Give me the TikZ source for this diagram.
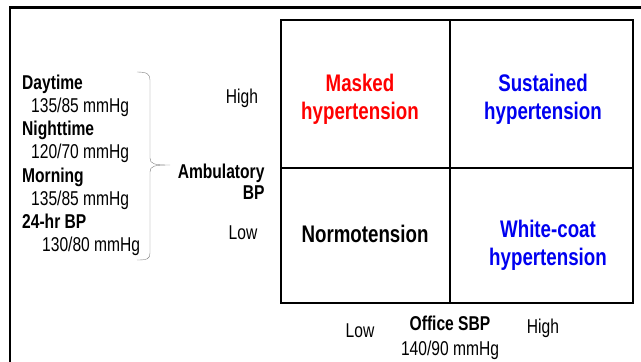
\documentclass[tikz,border=0pt]{standalone}
\usepackage{fontspec}
\setmainfont[FakeStretch=0.78]{Liberation Sans}

\definecolor{maskedred}{RGB}{255,0,0}
\definecolor{htblue}{RGB}{0,0,240}

\tikzset{
  cellline/.style={line width=1.6pt},
  celltext/.style={font=\fontsize{24}{28}\selectfont\bfseries,align=center},
  small/.style={font=\fontsize{20}{21}\selectfont},
  smallbold/.style={font=\fontsize{20}{21}\selectfont\bfseries},
}

\begin{document}
\begin{tikzpicture}[x=1pt,y=-1pt]
  \useasboundingbox (0,0) rectangle (641,362);
  \draw [line width=2.5pt] (10,362) -- (10,7.5) -- (641,7.5);

  % the four cells
  \draw [cellline] (281,20) rectangle (633,303);
  \draw [cellline] (450,20) -- (450,303);
  \draw [cellline] (281,168) -- (633,168);

  \node [celltext,text=maskedred] (masked) at (360,99) {Masked\\hypertension};
  \node [celltext,text=htblue] (sustained) at (543,99) {Sustained\\hypertension};
  \node [celltext] (normo) at (365,234) {Normotension};
  \node [celltext,text=htblue] (whitecoat) at (548,245) {White-coat\\hypertension};

  % office axis
  \node [small] (lowx) at (360,331) {Low};
  \node [smallbold] (office) at (450,323) {Office SBP};
  \node [small] (officeval) at (450,350) {140/90 mmHg};
  \node [small] (highx) at (543,328) {High};

  % ambulatory axis
  \node [small] (highy) at (242,98) {High};
  \node [small] (lowy) at (243,233) {Low};
  \node [smallbold,align=right,anchor=east] (amb) at (268,182) {Ambulatory\\BP};

  \node [smallbold,inner sep=0,anchor=base west] (day) at (22,89) {Daytime};
  \node [small,inner sep=0,anchor=base west] (dayval) at (31,112) {135/85 mmHg};
  \node [smallbold,inner sep=0,anchor=base west] (night) at (22,135) {Nighttime};
  \node [small,inner sep=0,anchor=base west] (nightval) at (31,158) {120/70 mmHg};
  \node [smallbold,inner sep=0,anchor=base west] (morn) at (22,182) {Morning};
  \node [small,inner sep=0,anchor=base west] (mornval) at (31,205) {135/85 mmHg};
  \node [smallbold,inner sep=0,anchor=base west] (allday) at (22,228) {24-hr BP};
  \node [small,inner sep=0,anchor=base west] (alldayval) at (42,251) {130/80 mmHg};

  % brace
  \draw [gray] (137,72) .. controls (147,72) and (150,74) .. (150,80) -- (150,158)
    .. controls (150,164) and (154,165) .. (170,165)
    .. controls (154,165) and (150,166) .. (150,172) -- (150,253)
    .. controls (150,259) and (147,260) .. (137,260);
\end{tikzpicture}
\end{document}
